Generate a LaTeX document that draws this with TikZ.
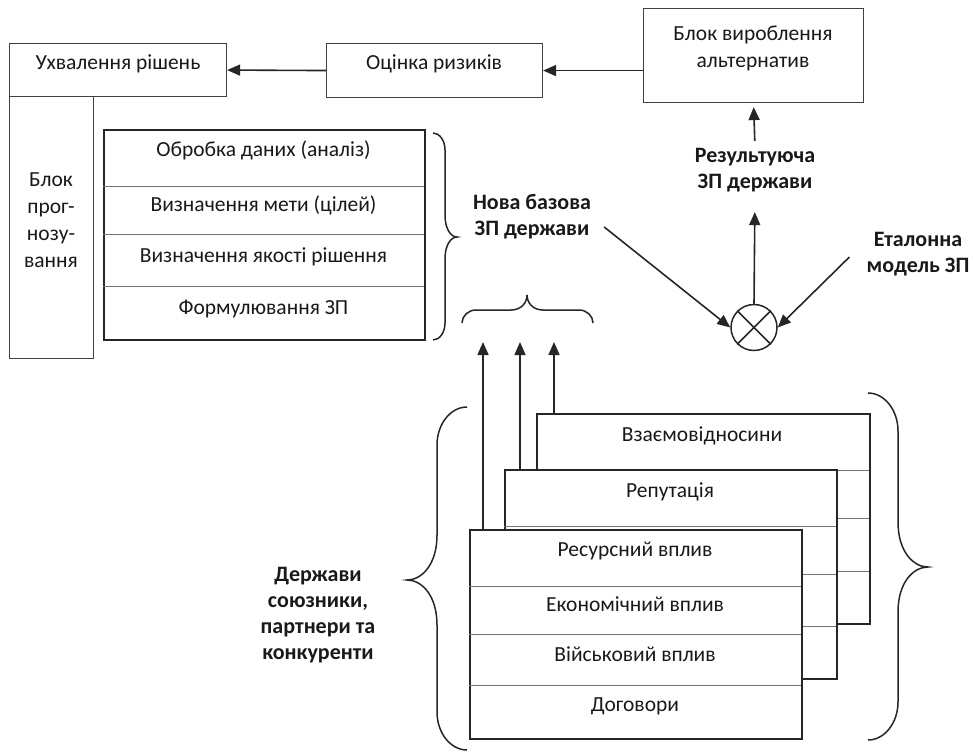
\documentclass[tikz,border=0pt]{standalone}
\usepackage{fontspec}
\setmainfont{Carlito}
\usetikzlibrary{arrows.meta}
\newcommand{\mybracev}[8]{% xe xs xt y1 ym y2 rend rtip
  \draw[brline] (#1,#4) .. controls (#2*0.55+#1*0.45,#4) and (#2,#4+#7*0.45) .. (#2,#4+#7) -- (#2,#5-#8)
    .. controls (#2,#5-#8*0.35) and (#2*0.5+#3*0.5,#5) .. (#3,#5)
    .. controls (#2*0.5+#3*0.5,#5) and (#2,#5+#8*0.35) .. (#2,#5+#8)
    -- (#2,#6-#7) .. controls (#2,#6-#7*0.45) and (#2*0.55+#1*0.45,#6) .. (#1,#6);}
\newcommand{\mybraceh}[8]{% ye ys yt x1 xm x2 rend rtip
  \draw[brline] (#4,#1) .. controls (#4,#2*0.55+#1*0.45) and (#4+#7*0.45,#2) .. (#4+#7,#2) -- (#5-#8,#2)
    .. controls (#5-#8*0.35,#2) and (#5,#2*0.5+#3*0.5) .. (#5,#3)
    .. controls (#5,#2*0.5+#3*0.5) and (#5+#8*0.35,#2) .. (#5+#8,#2)
    -- (#6-#7,#2) .. controls (#6-#7*0.45,#2) and (#6,#2*0.55+#1*0.45) .. (#6,#1);}
\begin{document}
\begin{tikzpicture}[x=1pt,y=-1pt,
  thinbox/.style={draw=black!75, line width=1.1pt, inner sep=0pt, anchor=north west},
  thickbox/.style={draw=black!85, line width=1.8pt, fill=white, inner sep=0pt, anchor=north west},
  rowline/.style={draw=black!55, line width=0.9pt},
  arr/.style={-{Triangle[length=13pt,width=11pt]}, line width=1.6pt, draw=black!85},
  brline/.style={line width=1.5pt, draw=black!85},
  txt/.style={font=\fontsize{21.5}{27}\selectfont, inner sep=0pt, align=center, text=black!90},
  btxt/.style={font=\bfseries\fontsize{22}{26}\selectfont, inner sep=0pt, align=center, text=black!90}]
\useasboundingbox (0,0) rectangle (973,752);

% top row
\node[thinbox, minimum width=217pt, minimum height=53pt] (uh) at (9,43) {};
\node[txt] (uht) at (118,64) {Ухвалення рішень};
\node[thinbox, minimum width=216pt, minimum height=54pt] (oc) at (326,43) {};
\node[txt] (oct) at (434,64) {Оцінка ризиків};
\node[thinbox, minimum width=220pt, minimum height=94pt] (bv) at (643,8) {};
\node[txt] (bvt) at (753,48) {Блок вироблення\\альтернатив};

% forecasting block
\node[thinbox, minimum width=84pt, minimum height=262pt] (pr) at (9,96) {};
\node[txt] (prt) at (51,220) {Блок\\прог-\\нозу-\\вання};

% main box
\node[thickbox, minimum width=321pt, minimum height=210pt] (mb) at (103,129) {};
\draw[rowline] (103,186) -- (424,186);
\draw[rowline] (103,234) -- (424,234);
\draw[rowline] (103,286) -- (424,286);
\node[txt] (m1) at (263.5,150) {Обробка даних (аналіз)};
\node[txt] (m2) at (263.5,205) {Визначення мети (цілей)};
\node[txt] (m3) at (263.5,257) {Визначення якості рішення};
\node[txt] (m4) at (263.5,309) {Формулювання ЗП};

% arrows top
\draw[arr] (bv.west |- oc.east) -- (oc.east);
\draw[arr] (oc.west) -- (uh.east);

% labels
\node[btxt] (res) at (755,170) {Результуюча\\ЗП держави};
\node[btxt] (nb) at (532,217) {Нова базова\\ЗП держави};
\node[btxt] (et) at (918,254) {Еталонна\\модель ЗП};
\node[btxt] (dz) at (318,615) {Держави\\союзники,\\партнери та\\конкуренти};

% comparator
\node[draw=black!85, line width=1.5pt, circle, minimum size=46pt, inner sep=0pt] (cx) at (754,327.5) {};
\draw[line width=1.5pt, black!85] (cx.45) -- (cx.225) (cx.135) -- (cx.315);

\draw[arr, shorten <=7pt, shorten >=4pt] (res.north) -- (bv.south);
\draw[arr, shorten >=20pt] (cx.north) -- (res.south);
\draw[arr] ([shift={(13,10)}]nb.east) -- (cx.west);
\draw[arr] ([shift={(-17,3)}]et.west) -- (cx.east);

% braces
\mybracev{433}{445}{457}{133}{237}{340}{17}{22}
\mybraceh{323}{310}{295}{462}{527}{593}{14}{16}

% stacked boxes: back
\node[thickbox, minimum width=333pt, minimum height=210pt] (bk) at (536,413) {};
\draw[rowline] (536,470) -- (869,470);
\draw[rowline] (536,518) -- (869,518);
\draw[rowline] (536,571) -- (869,571);
\node[txt] (bkt) at (702,436) {Взаємовідносини};
% middle
\node[thickbox, minimum width=332pt, minimum height=209pt] (md) at (504,469) {};
\draw[rowline] (504,526) -- (836,526);
\draw[rowline] (504,574) -- (836,574);
\draw[rowline] (504,626) -- (836,626);
\node[txt] (mdt) at (670,492) {Репутація};
% front
\node[thickbox, minimum width=332pt, minimum height=209pt] (fr) at (469,529) {};
\draw[rowline] (469,586) -- (801,586);
\draw[rowline] (469,634) -- (801,634);
\draw[rowline] (469,685) -- (801,685);
\node[txt] (f1) at (635,551) {Ресурсний вплив};
\node[txt] (f2) at (635,604) {Економічний вплив};
\node[txt] (f3) at (635,654) {Військовий вплив};
\node[txt] (f4) at (635,706) {Договори};

% upward arrows to the brace
\coordinate (a1) at (483,342);
\coordinate (a2) at (520,342);
\coordinate (a3) at (554,342);
\draw[arr] (fr.north west -| a1) -- (a1);
\draw[arr] (md.north west -| a2) -- (a2);
\draw[arr] (bk.north west -| a3) -- (a3);

% big braces
\mybracev{467}{437}{407}{407}{580}{750}{38}{45}
\mybracev{868}{898}{928}{393}{567}{740}{38}{45}
\end{tikzpicture}
\end{document}
